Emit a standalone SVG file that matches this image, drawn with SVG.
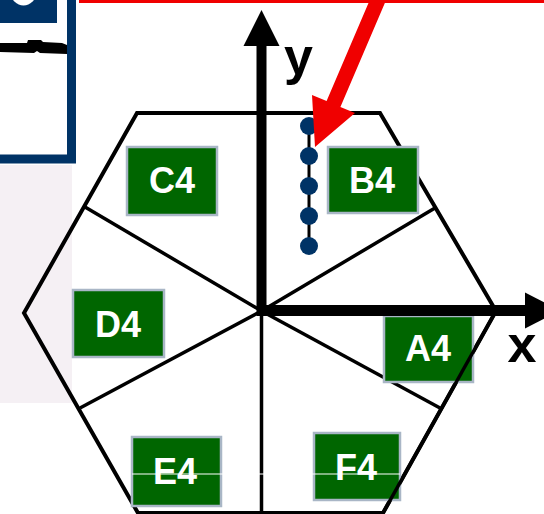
<svg xmlns="http://www.w3.org/2000/svg" width="544" height="514" viewBox="0 0 544 514">
  <style>
    .edge { fill: none; stroke: #000; stroke-width: 4; stroke-linejoin: miter; }
    .sector { stroke: #000; stroke-width: 3.5; }
    .box rect { fill: #006600; stroke: #a9b6c6; stroke-width: 2.5; }
    .box text { font-family: "Liberation Sans", Arial, sans-serif; font-weight: bold; font-size: 36px; fill: #fff; text-anchor: middle; }
    .axis-label { font-family: "Liberation Sans", Arial, sans-serif; font-weight: bold; font-size: 52px; fill: #000; text-anchor: middle; }
    .dot { fill: #003366; }
  </style>

  <rect width="544" height="514" fill="#fff"/>

  <!-- side panel -->
  <g id="side-panel">
    <rect x="0" y="165" width="72" height="238" fill="#f5f0f4"/>
    <rect x="0" y="0" width="57" height="23" fill="#003366"/>
    <circle cx="23.5" cy="-7" r="12.5" fill="#fff"/>
    <path d="M0,43 L27,43 L28,40 L41,40 L43,42 L62,43 L67,45 L67,54 L40,53 L37,51 L34,53 L0,52 Z" fill="#000"/>
    <polyline points="-5,159 71.5,159 71.5,-5" fill="none" stroke="#003366" stroke-width="9"/>
  </g>

  <!-- red rule along the top -->
  <rect id="top-rule" x="79" y="0" width="465" height="3" fill="#f00000"/>

  <!-- hexagon outline -->
  <g id="hexagon">
    <polygon class="edge" points="137,113 380,113 496,311 383,513 138,513 24,313"/>
  </g>

  <!-- sector dividers from the origin to the edge midpoints -->
  <g id="connectors">
    <line class="sector" x1="261.5" y1="311" x2="85" y2="207"/>
    <line class="sector" x1="261.5" y1="311" x2="435" y2="208"/>
    <line class="sector" x1="261.5" y1="311" x2="80" y2="408"/>
    <line class="sector" x1="261.5" y1="311" x2="440" y2="408"/>
    <line class="sector" x1="261.5" y1="311" x2="261.5" y2="514" stroke-width="5"/>
  </g>

  <!-- sector labels -->
  <g id="B4" class="box"><rect x="328" y="147" width="90" height="66"/><text x="372" y="193">B4</text></g>
  <g id="C4" class="box"><rect x="127" y="147" width="90" height="68"/><text x="172" y="193">C4</text></g>
  <g id="D4" class="box"><rect x="73" y="290" width="91" height="67"/><text x="118" y="337">D4</text></g>
  <g id="E4" class="box"><rect x="132" y="437" width="89" height="69"/><text x="175" y="484">E4</text></g>
  <g id="A4" class="box"><rect x="384" y="316" width="89" height="66"/><text x="428" y="361">A4</text></g>
  <g id="F4" class="box"><rect x="314" y="433" width="86" height="67"/><text x="356" y="480">F4</text></g>

  <!-- lower-right edge sits over the A4/F4 labels -->
  <line class="sector" x1="496" y1="311" x2="383" y2="513" stroke-width="4"/>

  <!-- thin white rule through the lower labels -->
  <line x1="132" y1="474" x2="400" y2="474" stroke="#fff" stroke-width="1"/>

  <!-- axes -->
  <g id="axes">
    <line x1="261.5" y1="40" x2="261.5" y2="316" stroke="#000" stroke-width="10"/>
    <polygon points="243.5,46 279.5,46 261.5,10" fill="#000"/>
    <line x1="257" y1="310.5" x2="530" y2="310.5" stroke="#000" stroke-width="11"/>
    <polygon points="525,292.5 525,328.5 560,310.5" fill="#000"/>
    <text class="axis-label" x="298.5" y="74">y</text>
    <text class="axis-label" x="522" y="362">x</text>
  </g>

  <!-- dotted marker column -->
  <g id="marker">
    <line x1="309" y1="126" x2="309" y2="246" stroke="#000" stroke-width="3"/>
    <circle class="dot" cx="309" cy="126" r="9"/>
    <circle class="dot" cx="309" cy="156" r="9"/>
    <circle class="dot" cx="309" cy="186" r="9"/>
    <circle class="dot" cx="309" cy="216" r="9"/>
    <circle class="dot" cx="309" cy="246" r="9"/>
  </g>

  <!-- red pointer arrow -->
  <g id="pointer">
    <polygon points="373.2,-8 326.6,101 312,95 315,147 355,113 340.4,107 387,-2" fill="#f00000"/>
  </g>
</svg>
